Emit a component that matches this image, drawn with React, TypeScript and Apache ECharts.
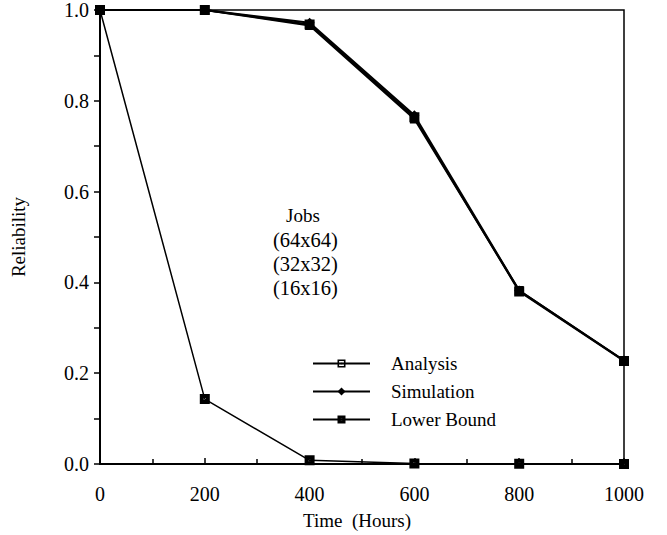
import React, { useEffect, useRef } from "react";
import * as echarts from "echarts";

const times = [0, 200, 400, 600, 800, 1000];
const analysisUpper = [1.0, 1.0, 0.966, 0.76, 0.382, 0.228];
const simulationUpper = [1.0, 1.0, 0.972, 0.768, 0.382, 0.228];
const lowerBoundUpper = [1.0, 1.0, 0.968, 0.764, 0.38, 0.227];
const lowerBoundLower = [1.0, 0.143, 0.008, 0.001, 0.0005, 0.0];
const legendNames = ["Analysis", "Simulation", "Lower Bound"];
const jobLabels = ["Jobs", "(64x64)", "(32x32)", "(16x16)"];

const FONT = "Liberation Serif";
const FS = 19;
const TICK_FS = 20;

// open square with center dot (outer CW, inner CCW, dot CW)
const openSq =
  "path://M0,0 L10,0 L10,10 L0,10 Z M2,2 L2,8 L8,8 L8,2 Z M4,4 L6,4 L6,6 L4,6 Z";
// filled square with white center dot
const filledSq = "path://M0,0 L10,0 L10,10 L0,10 Z M4,4 L4,6 L6,6 L6,4 Z";

const pairs = (ys: number[]) => times.map((t, i) => [t, ys[i]]);

export default function App() {
  const ref = useRef<HTMLDivElement>(null);
  useEffect(() => {
    document.body.style.margin = "0";
    if (!ref.current) return;
    const chart = echarts.init(ref.current, null, { renderer: "svg" });
    const lineBase = {
      type: "line" as const,
      color: "#000",
      lineStyle: { color: "#000", width: 2 },
      itemStyle: { color: "#000", borderWidth: 0 },
    };
    chart.setOption({
      animation: false,
      backgroundColor: "#fff",
      textStyle: { fontFamily: FONT },
      grid: {
        left: 100,
        right: 43,
        top: 10,
        bottom: 68,
        show: true,
        borderColor: "#000",
        borderWidth: 1.5,
      },
      xAxis: {
        type: "value",
        min: 0,
        max: 1000,
        interval: 200,
        name: "Time  (Hours)",
        nameLocation: "middle",
        nameGap: 47,
        nameTextStyle: {
          fontFamily: FONT,
          fontSize: FS,
          color: "#000",
          padding: [0, 10, 0, 0],
        },
        axisLine: { lineStyle: { color: "#000", width: 2 } },
        axisTick: { inside: true, length: 6, lineStyle: { color: "#000", width: 1.5 } },
        minorTick: { show: true, splitNumber: 2, length: 5, lineStyle: { color: "#000", width: 1.5 } },
        axisLabel: {
          fontFamily: FONT,
          fontSize: TICK_FS,
          color: "#000",
          margin: 20,
          formatter: (v: number) => String(v),
        },
        splitLine: { show: false },
      },
      yAxis: {
        type: "value",
        min: 0,
        max: 1,
        interval: 0.2,
        name: "Reliability",
        nameLocation: "middle",
        nameGap: 72,
        nameTextStyle: { fontFamily: FONT, fontSize: FS, color: "#000" },
        axisLine: { show: true, lineStyle: { color: "#000", width: 2 } },
        axisTick: { show: true, length: 6, lineStyle: { color: "#000", width: 1.5 } },
        minorTick: { show: true, splitNumber: 2, length: 6, lineStyle: { color: "#000", width: 1.5 } },
        axisLabel: {
          fontFamily: FONT,
          fontSize: TICK_FS,
          color: "#000",
          margin: 11,
          formatter: (v: number) => v.toFixed(1),
        },
        splitLine: { show: false },
      },
      legend: {
        data: legendNames,
        orient: "vertical",
        left: 312,
        top: 354,
        padding: 0,
        itemWidth: 57,
        itemHeight: 10,
        itemGap: 9,
        textStyle: {
          fontFamily: FONT,
          fontSize: FS,
          color: "#000",
          padding: [0, 0, 0, 16],
        },
      },
      graphic: jobLabels.map((t, i) => ({
        type: "text",
        left: i === 0 ? 286 : 273,
        top: 206 + i * 23.7,
        style: {
          text: t,
          fontFamily: FONT,
          fontSize: i === 0 ? FS : 20.5,
          fill: "#000",
        },
      })),
      series: [
        {
          ...lineBase,
          name: "Lower Bound",
          data: pairs(lowerBoundUpper),
          symbol: filledSq,
          symbolSize: 10,
        },
        {
          ...lineBase,
          name: "Analysis",
          data: pairs(analysisUpper),
          symbol: openSq,
          symbolSize: 9,
        },
        {
          ...lineBase,
          name: "Simulation",
          data: pairs(simulationUpper),
          symbol: "diamond",
          symbolSize: 10,
        },
        {
          ...lineBase,
          name: "Lower Bound",
          data: pairs(lowerBoundLower),
          symbol: filledSq,
          symbolSize: 10,
          lineStyle: { color: "#000", width: 1.5 },
        },
      ],
    });
    return () => chart.dispose();
  }, []);
  return <div ref={ref} style={{ width: 667, height: 535 }} />;
}
